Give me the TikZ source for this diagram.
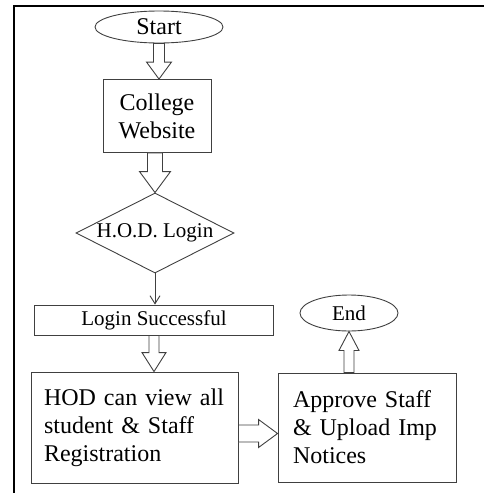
\documentclass[tikz,border=0pt]{standalone}
\usepackage{fontspec}
\setmainfont{Liberation Serif}
\usetikzlibrary{shapes.geometric, arrows.meta, calc}

\tikzset{
    box/.style={draw=black!75, line width=0.9pt, inner sep=0pt},
    bigtext/.style={font=\fontsize{24}{28}\selectfont},
    smalltext/.style={font=\fontsize{21}{25}\selectfont},
    fatarrow/.style={draw=black!75, line width=0.9pt, fill=white},
}

% hollow block arrow: from, to, shaft half width, head half width, head length
\newcommand{\blockarrow}[5]{%
    \coordinate (ba-tip) at (#2);
    \coordinate (ba-base) at ($(#2)!#5!(#1)$);
    \draw[fatarrow] ($(#1)!#3!90:(#2)$) -- ($(ba-base)!#3!90:(ba-tip)$)
        -- ($(ba-base)!#4!90:(ba-tip)$) -- (ba-tip)
        -- ($(ba-base)!#4!-90:(ba-tip)$) -- ($(ba-base)!#3!-90:(ba-tip)$)
        -- ($(#1)!#3!-90:(#2)$) -- cycle;}

\begin{document}
\begin{tikzpicture}[x=1pt, y=-1pt]
    \useasboundingbox (0,0) rectangle (484,493);

    % Page frame (left and top only)
    \draw[black, line width=2pt] (14,493) -- (14,6) -- (484,6);

    % Start and first box
    \node[box, ellipse, bigtext, minimum width=128, minimum height=32] (start) at (159,27) {Start};
    \node[box, bigtext, align=center, minimum width=108, minimum height=73] (web) at (157,116) {College\\Website};

    % Login decision
    \node[box, diamond, smalltext, shape aspect=2, minimum width=158, minimum height=80] (hod) at (155,233) {H.O.D. Login};
    \node[box, smalltext, minimum width=239, minimum height=30] (login) at (154,320) {Login Successful};

    % Bottom row
    \node[box, bigtext, align=left, text width=181, inner xsep=13, minimum height=111] (view) at (134.5,427.5)
        {HOD can view all\\student \& Staff\\Registration};
    \node[box, bigtext, align=left, text width=148, inner xsep=15, minimum height=109] (approve) at (367,427.5)
        {Approve Staff\\\& Upload Imp\\Notices};
    \node[box, ellipse, smalltext, minimum width=98, minimum height=36] (end) at (349,313) {End};

    % Block arrows
    \coordinate (a1) at (start.south |- web.north);
    \blockarrow{start.south}{a1}{5.5pt}{12.5pt}{17pt}
    \coordinate (a2) at (hod.north |- web.south);
    \blockarrow{a2}{hod.north}{7.5pt}{15.5pt}{21pt}
    \coordinate (a3) at (login.south |- view.north);
    \blockarrow{login.south}{a3}{5pt}{12pt}{19pt}
    \coordinate (a4) at ($(view.east)+(0,6)$);
    \coordinate (a5) at (a4 -| approve.west);
    \blockarrow{a4}{a5}{8.5pt}{14pt}{19pt}
    \coordinate (a6) at (end.south |- approve.north);
    \blockarrow{a6}{end.south}{5pt}{10pt}{19pt}

    % Thin arrow from decision
    \coordinate (a7) at (hod.south |- login.north);
    \draw[black!75, line width=0.9pt, -{Straight Barb[length=8pt, width=10pt]}] (hod.south) -- (a7);
\end{tikzpicture}
\end{document}
